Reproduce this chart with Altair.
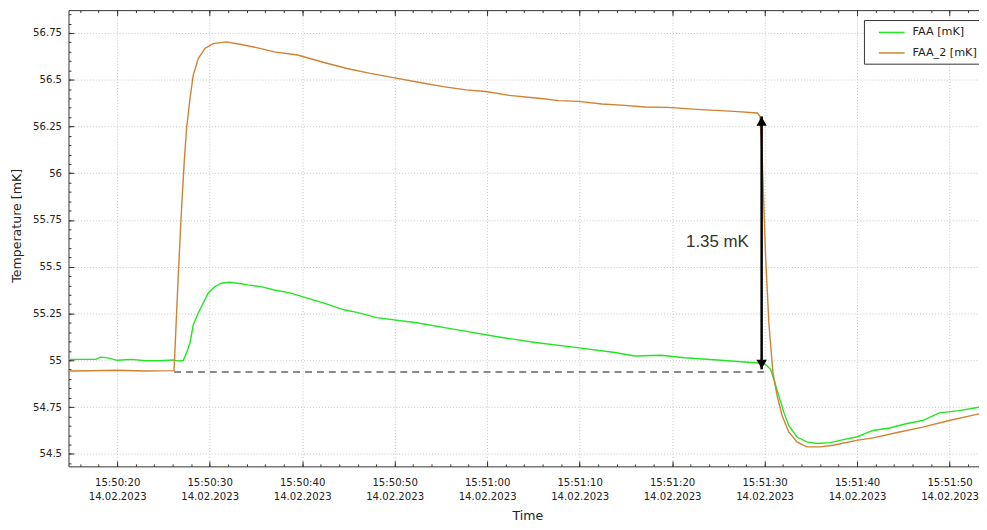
import altair as alt
import pandas as pd

# ---------------- data: seconds after 14.02.2023 15:50:00, values in mK ----------------
faa_t = [14.74, 17.68, 18.22, 19.11, 20.0, 21.61, 23.05, 24.47, 26.08, 26.62, 27.16, 27.51,
         27.88, 28.23, 28.77, 29.12, 29.84, 30.56, 31.27, 32.17, 33.06, 34.13, 35.56, 37.0,
         38.78, 40.57, 42.36, 44.51, 45.93, 48.07, 52.37, 56.66, 60.95, 65.24, 69.53, 73.82,
         75.97, 78.84, 81.34, 84.91, 87.78, 89.92, 90.28, 90.64, 91.0, 91.53, 92.07, 92.61,
         93.5, 94.57, 95.64, 97.08, 98.51, 99.94, 101.73, 103.52, 105.3, 107.09, 108.88,
         111.03, 113.18]
faa_v = [55.005, 55.005, 55.017, 55.012, 55.0, 55.005, 54.998, 54.998, 55.002, 54.996, 55.0,
         55.041, 55.094, 55.19, 55.253, 55.288, 55.359, 55.394, 55.412, 55.417, 55.412, 55.403,
         55.394, 55.376, 55.359, 55.332, 55.306, 55.27, 55.256, 55.228, 55.201, 55.164, 55.127,
         55.095, 55.069, 55.042, 55.023, 55.027, 55.014, 55.002, 54.991, 54.984, 54.97, 54.952,
         54.899, 54.811, 54.723, 54.652, 54.59, 54.564, 54.555, 54.56, 54.576, 54.59, 54.625,
         54.638, 54.661, 54.678, 54.719, 54.731, 54.749]

faa2_t = [14.74, 17.0, 20.0, 23.0, 26.15, 26.62, 26.97, 27.26, 27.51, 27.88, 28.23, 28.77,
          29.49, 30.38, 31.8, 33.41, 35.2, 37.0, 39.5, 42.36, 44.86, 47.36, 49.87, 52.73,
          55.24, 57.74, 59.88, 62.38, 65.6, 67.75, 69.89, 72.4, 74.9, 77.05, 79.55, 83.13,
          86.71, 89.21, 89.5, 89.74, 90.11, 90.46, 90.64, 90.9, 91.35, 91.89, 92.61, 93.5,
          94.57, 96.01, 97.43, 99.94, 101.73, 104.59, 107.09, 109.96, 113.18]
faa2_v = [54.943, 54.944, 54.947, 54.943, 54.945, 55.465, 55.818, 56.066, 56.242, 56.401,
          56.525, 56.613, 56.667, 56.693, 56.702, 56.688, 56.67, 56.649, 56.632, 56.592, 56.56,
          56.534, 56.511, 56.485, 56.463, 56.446, 56.437, 56.416, 56.401, 56.388, 56.384, 56.37,
          56.363, 56.354, 56.352, 56.34, 56.331, 56.322, 56.304, 56.083, 55.553, 55.201, 55.09,
          54.935, 54.811, 54.705, 54.617, 54.564, 54.537, 54.537, 54.546, 54.572, 54.585,
          54.617, 54.643, 54.678, 54.714]

series_names = ["FAA [mK]", "FAA_2 [mK]"]
series_colors = ["#22e622", "#cf8232"]

x_major_s = [20, 30, 40, 50, 60, 70, 80, 90, 100, 110]
x_minor_s = [s for s in range(16, 114, 2)]
y_major = [54.5, 54.75, 55.0, 55.25, 55.5, 55.75, 56.0, 56.25, 56.5, 56.75]
y_minor = [round(54.45 + 0.05 * i, 2) for i in range(49)]

x_domain_s = [14.74, 113.18]
y_domain = [54.433, 56.872]

base_line_s = [26.16, 90.1]
base_line_v = 54.938
arrow_t = 89.68
arrow_v = [54.952, 56.304]
note_text = "1.35 mK"
note_t = 84.9
note_v = 55.633

# ---------------- helpers ----------------
base_ms = int(pd.Timestamp("2023-02-14 15:50:00", tz="UTC").value // 10**6)


def ms(s):
    return base_ms + int(round(s * 1000))


rows = []
for name, ts, vs in [(series_names[0], faa_t, faa_v), (series_names[1], faa2_t, faa2_v)]:
    for t, v in zip(ts, vs):
        rows.append({"time": ms(t), "value": v, "series": name})
lines_df = pd.DataFrame(rows)

dash_df = pd.DataFrame([{"t0": ms(base_line_s[0]), "t1": ms(base_line_s[1]), "v": base_line_v}])
arrow_df = pd.DataFrame([{"t": ms(arrow_t), "v0": arrow_v[0], "v1": arrow_v[1]}])
head_up_df = pd.DataFrame([{"t": ms(arrow_t), "v": arrow_v[1]}])
head_dn_df = pd.DataFrame([{"t": ms(arrow_t), "v": arrow_v[0]}])
note_df = pd.DataFrame([{"t": ms(note_t), "v": note_v, "text": note_text}])

xscale = alt.Scale(type="utc", domain=[ms(x_domain_s[0]), ms(x_domain_s[1])], nice=False)
yscale = alt.Scale(domain=y_domain, zero=False, nice=False)

FONT = "DejaVu Sans"
INK = "#333333"
TXT = "#222222"
GRID = "#c4c4c4"
x_major_ms = [ms(s) for s in x_major_s]
x_minor_ms = [ms(s) for s in x_minor_s]

ax_x_main = alt.Axis(
    orient="bottom", values=x_major_ms, tickSize={"expr": "-5.5"},
    labelPadding=21.5, labelBaseline="middle",
    labelExpr="utcFormat(datum.value, '%H:%M:%S')",
    labelFlush=False, labelOverlap=False, labelFont=FONT, labelFontSize=10.2,
    labelColor=TXT, grid=True, gridColor=GRID, gridDash=[1, 2], domain=True, domainColor=INK,
    tickColor=INK, title="Time", titleFont=FONT, titleFontSize=12.7, titleFontWeight="normal",
    titleColor=TXT, titleX=462.7, titleY=49.5, titleBaseline="middle", titleAlign="center",
)
ax_x_dates = alt.Axis(
    orient="bottom", values=x_major_ms, ticks=False, tickSize=0, labelPadding=30,
    labelBaseline="middle", labelExpr="utcFormat(datum.value, '%d.%m.%Y')",
    labelFlush=False, labelOverlap=False, labelFont=FONT, labelFontSize=10.2, labelColor=TXT,
    grid=False, domain=False, title=None,
)
ax_x_minor_bottom = alt.Axis(
    orient="bottom", values=x_minor_ms, tickSize={"expr": "-2.5"}, labels=False,
    grid=False, domain=False, tickColor=INK, title=None,
)
ax_x_top_major = alt.Axis(
    orient="top", values=x_major_ms, tickSize={"expr": "-5.5"}, labels=False,
    grid=False, domain=True, domainColor=INK, tickColor=INK, title=None,
)
ax_x_top_minor = alt.Axis(
    orient="top", values=x_minor_ms, tickSize={"expr": "-2.5"}, labels=False,
    grid=False, domain=False, tickColor=INK, title=None,
)
ax_y_main = alt.Axis(
    orient="left", values=y_major, tickSize={"expr": "-5.5"}, labelPadding=12.5,
    labelExpr="format(datum.value, '~g')",
    labelFont=FONT, labelFontSize=10.2, labelColor=TXT, grid=True, gridColor=GRID,
    gridDash=[1, 2], domain=True, domainColor=INK, tickColor=INK, title="Temperature [mK]",
    titleFont=FONT, titleFontSize=12.7, titleFontWeight="normal", titleColor=TXT,
    titleX=-52, titleY=217, titleAngle=-90, titleBaseline="middle", titleAlign="center",
)
ax_y_minor = alt.Axis(
    orient="left", values=y_minor, tickSize={"expr": "-2.5"}, labels=False, grid=False,
    domain=False, tickColor=INK, title=None,
)

legend = alt.Legend(
    title=None, orient="none", legendX=802, legendY=10, direction="vertical",
    fillColor="white", strokeColor=INK, padding=5, symbolOffset=15.5,
    symbolType="M-2,0H2", symbolSize=169, symbolStrokeWidth=1.5,
    labelFont=FONT, labelFontSize=11.3, labelColor=TXT,
    labelOffset=13.5, rowPadding=7.7, cornerRadius=0,
)

lines = alt.Chart(lines_df).mark_line(strokeWidth=1.4).encode(
    x=alt.X("time:T", scale=xscale, axis=ax_x_main),
    y=alt.Y("value:Q", scale=yscale, axis=ax_y_main),
    color=alt.Color("series:N", scale=alt.Scale(domain=series_names, range=series_colors), legend=legend),
)

dashed = alt.Chart(dash_df).mark_rule(color="#8a8a8a", strokeWidth=2, strokeDash=[7, 5]).encode(
    x=alt.X("t0:T", scale=xscale, axis=ax_x_minor_bottom),
    x2="t1:T",
    y=alt.Y("v:Q", scale=yscale, axis=ax_y_minor),
)

shaft = alt.Chart(arrow_df).mark_rule(color="black", strokeWidth=2.5).encode(
    x=alt.X("t:T", scale=xscale, axis=ax_x_top_major),
    y=alt.Y("v0:Q", scale=yscale, axis=None),
    y2="v1:Q",
)

head_up = alt.Chart(head_up_df).mark_point(shape="triangle-up", filled=True, color="black",
                                           size=110, opacity=1, yOffset=5).encode(
    x=alt.X("t:T", scale=xscale, axis=ax_x_top_minor),
    y=alt.Y("v:Q", scale=yscale, axis=None),
)

head_dn = alt.Chart(head_dn_df).mark_point(shape="triangle-down", filled=True, color="black",
                                           size=110, opacity=1, yOffset=-5).encode(
    x=alt.X("t:T", scale=xscale, axis=ax_x_dates),
    y=alt.Y("v:Q", scale=yscale, axis=None),
)

note = alt.Chart(note_df).mark_text(font="Liberation Sans", fontSize=17, color="#333",
                                    align="center", baseline="middle").encode(
    x=alt.X("t:T", scale=xscale, axis=None),
    y=alt.Y("v:Q", scale=yscale, axis=None),
    text="text:N",
)

chart = alt.layer(lines, dashed, shaft, head_up, head_dn, note).resolve_axis(
    x="independent", y="independent"
).properties(
    width=918, height=460,
    autosize=alt.AutoSizeParams(type="none"),
    padding={"left": 61, "top": 0, "right": 0, "bottom": 62},
    background="white",
).configure_view(stroke=None)

chart.save("out.html", embed_options={"renderer": "svg", "actions": False})
